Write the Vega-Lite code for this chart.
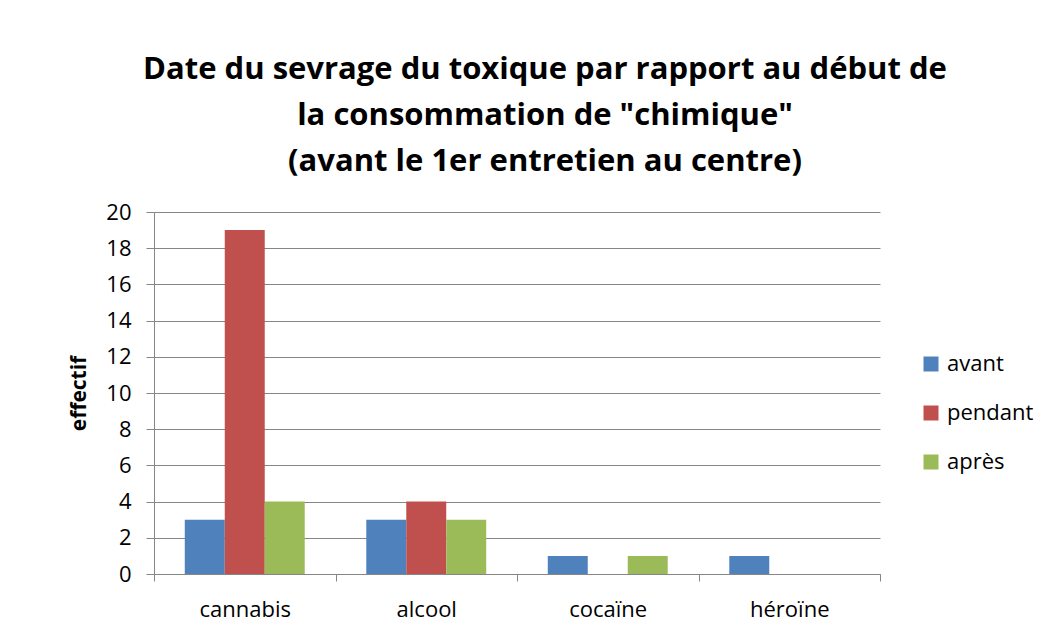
{
  "$schema": "https://vega.github.io/schema/vega-lite/v6.json",
  "autosize": {"type": "none"},
  "padding": {"left": 154, "top": 212, "right": 179, "bottom": 63},
  "width": 726,
  "height": 362,
  "background": "white",
  "title": {
    "text": ["Date du sevrage du toxique par rapport au début de", "la consommation de \"chimique\"", "(avant le 1er entretien au centre)"],
    "font": "Open Sans",
    "fontSize": 31,
    "fontWeight": "bold",
    "color": "#000000",
    "lineHeight": 46,
    "anchor": "middle",
    "frame": "group",
    "dx": 28,
    "offset": 23
  },
  "data": {
    "values": [
      {"substance": "cannabis", "moment": "avant", "effectif": 3},
      {"substance": "cannabis", "moment": "pendant", "effectif": 19},
      {"substance": "cannabis", "moment": "après", "effectif": 4},
      {"substance": "alcool", "moment": "avant", "effectif": 3},
      {"substance": "alcool", "moment": "pendant", "effectif": 4},
      {"substance": "alcool", "moment": "après", "effectif": 3},
      {"substance": "cocaïne", "moment": "avant", "effectif": 1},
      {"substance": "cocaïne", "moment": "pendant", "effectif": 0},
      {"substance": "cocaïne", "moment": "après", "effectif": 1},
      {"substance": "héroïne", "moment": "avant", "effectif": 1},
      {"substance": "héroïne", "moment": "pendant", "effectif": 0},
      {"substance": "héroïne", "moment": "après", "effectif": 0}
    ]
  },
  "mark": {"type": "bar"},
  "encoding": {
    "x": {
      "field": "substance",
      "type": "nominal",
      "sort": ["cannabis", "alcool", "cocaïne", "héroïne"],
      "scale": {"paddingInner": 0, "paddingOuter": 0},
      "axis": {
        "title": null,
        "labelAngle": 0,
        "labelFont": "Open Sans",
        "labelFontSize": 22,
        "labelColor": "#000000",
        "labelPadding": 18,
        "tickBand": "extent",
        "tickSize": 7,
        "tickColor": "#868686",
        "domainColor": "#868686",
        "grid": false
      }
    },
    "xOffset": {
      "field": "moment",
      "type": "nominal",
      "sort": ["avant", "pendant", "après"],
      "scale": {"paddingInner": 0, "paddingOuter": 0.77}
    },
    "y": {
      "field": "effectif",
      "type": "quantitative",
      "scale": {"domain": [0, 20], "nice": false},
      "axis": {
        "title": "effectif",
        "titleFont": "Open Sans",
        "titleFontSize": 21,
        "titleFontWeight": "bold",
        "titleColor": "#000000",
        "titlePadding": 16,
        "values": [0, 2, 4, 6, 8, 10, 12, 14, 16, 18, 20],
        "labelFont": "Open Sans",
        "labelFontSize": 22,
        "labelColor": "#000000",
        "labelPadding": 15,
        "tickSize": 8,
        "tickColor": "#868686",
        "domainColor": "#868686",
        "gridColor": "#868686",
        "gridOpacity": 1
      }
    },
    "color": {
      "field": "moment",
      "type": "nominal",
      "sort": ["avant", "pendant", "après"],
      "scale": {"domain": ["avant", "pendant", "après"], "range": ["#4F81BD", "#C0504D", "#9BBB59"]},
      "legend": {
        "title": null,
        "orient": "none",
        "legendX": 766,
        "legendY": 141,
        "symbolType": "square",
        "symbolSize": 225,
        "symbolStrokeWidth": 0,
        "symbolOpacity": 1,
        "labelFont": "Open Sans",
        "labelFontSize": 22,
        "labelColor": "#000000",
        "labelOffset": 5,
        "rowPadding": 27
      }
    }
  },
  "config": {
    "view": {"stroke": null},
    "axis": {"domainWidth": 1, "tickWidth": 1, "gridWidth": 1}
  }
}
